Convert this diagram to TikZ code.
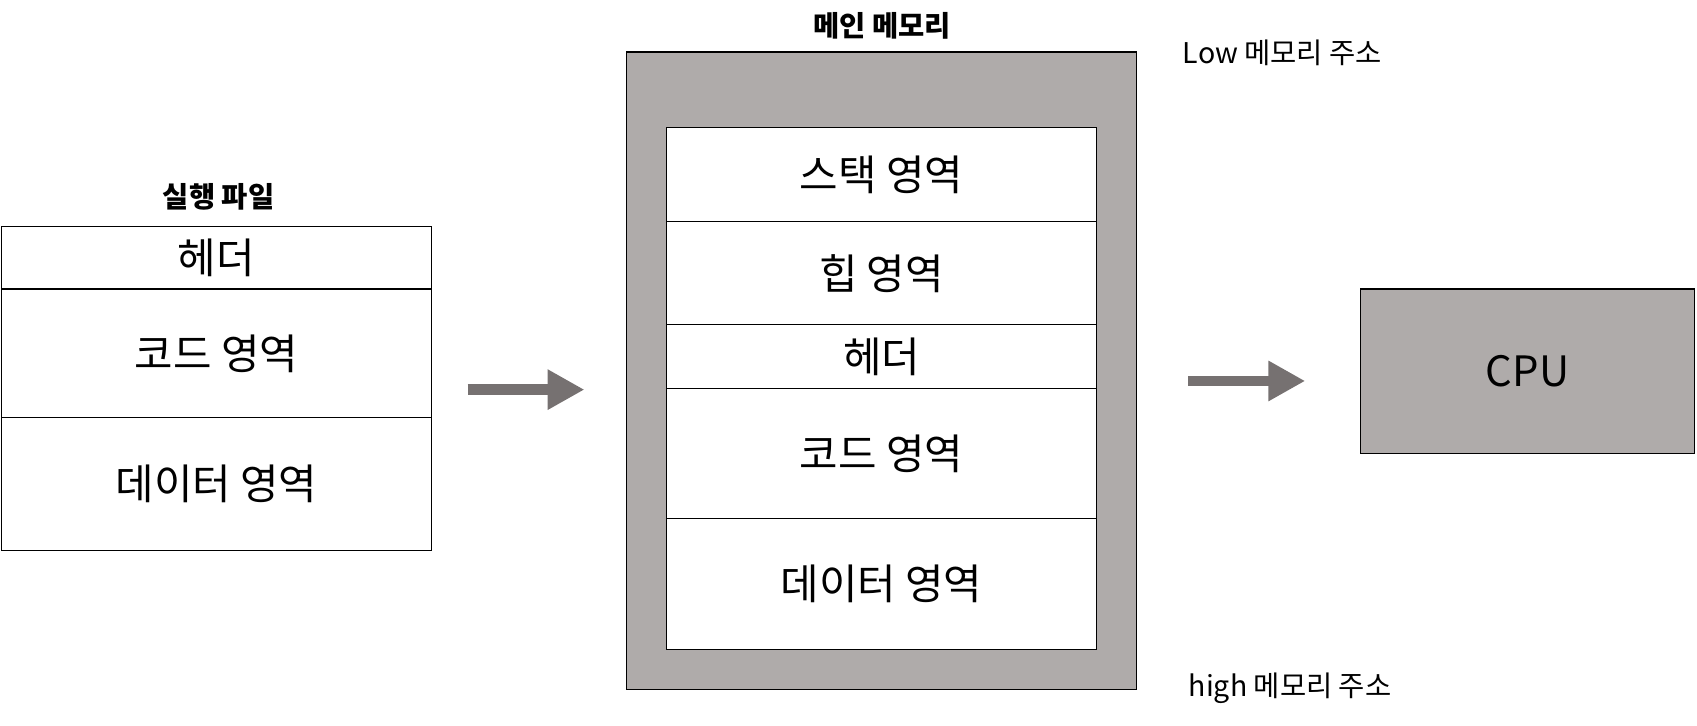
\documentclass[tikz,border=0pt]{standalone}
\usepackage{fontspec}
\setmainfont{Noto Sans CJK KR}
\usetikzlibrary{arrows.meta,positioning}
\definecolor{memgray}{RGB}{175,171,170}
\definecolor{arrgray}{RGB}{118,113,113}
\begin{document}
\begin{tikzpicture}[x=0.02cm,y=-0.02cm,
    cell/.style={draw, fill=white, line width=0.6pt, inner sep=0pt, minimum width=7.96cm, font=\fontsize{22}{26}\selectfont},
    title/.style={font=\bfseries\fontsize{15}{18}\selectfont},
    addr/.style={font=\fontsize{15}{18}\selectfont},
    bigarrow/.style={draw=arrgray, line width=0.2cm, -{Triangle[length=0.68cm,width=0.7cm]}}
  ]
  \useasboundingbox (0,0) rectangle (1568,670);
  % executable file
  \node[title] (filetitle) at (202,182) {실행 파일};
  \node[cell, minimum height=1.16cm] (fhead) at (200,238) {헤더};
  \node[cell, minimum height=2.38cm] (fcode) at (200,326.5) {코드 영역};
  \node[cell, minimum height=2.46cm] (fdata) at (200,447.5) {데이터 영역};
  % main memory
  \node[title] (memtitle) at (815,24) {메인 메모리};
  \node[draw, fill=memgray, line width=0.6pt, minimum width=9.42cm, minimum height=11.78cm] (mem) at (814.5,342.5) {};
  \node[cell, minimum height=1.74cm] (mstack) at (814.5,161.5) {스택 영역};
  \node[cell, minimum height=1.9cm] (mheap) at (814.5,252.5) {힙 영역};
  \node[cell, minimum height=1.18cm] (mhead) at (814.5,329.5) {헤더};
  \node[cell, minimum height=2.4cm] (mcode) at (814.5,419) {코드 영역};
  \node[cell, minimum height=2.42cm] (mdata) at (814.5,539.5) {데이터 영역};
  \node[addr] (low) at (1185,49) {Low 메모리 주소};
  \node[addr] (high) at (1192,636) {high 메모리 주소};
  % cpu
  \node[draw, fill=memgray, line width=0.6pt, minimum width=6.18cm, minimum height=3.04cm, font=\fontsize{22}{26}\selectfont] (cpu) at (1411.5,343) {CPU};
  \coordinate (a1s) at (432,360);
  \coordinate (a1e) at (540,360);
  \coordinate (a2s) at (1098,352);
  \coordinate (a2e) at (1206,352);
  \draw[bigarrow] (a1s) -- (a1e);
  \draw[bigarrow] (a2s) -- (a2e);
\end{tikzpicture}
\end{document}
